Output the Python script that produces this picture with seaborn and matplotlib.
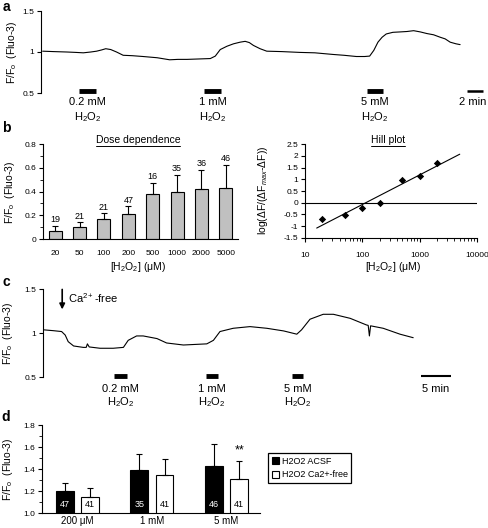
import numpy as np
import pandas as pd
import matplotlib
matplotlib.use("Agg")
import matplotlib.pyplot as plt
from matplotlib.lines import Line2D
import seaborn as sns

sns.set_style("ticks")
plt.rcParams['font.family'] = ['Liberation Sans', 'DejaVu Sans']
plt.rcParams['mathtext.fontset'] = 'custom'
plt.rcParams['mathtext.rm'] = 'Liberation Sans'
plt.rcParams['mathtext.it'] = 'Liberation Sans:italic'
plt.rcParams['mathtext.bf'] = 'Liberation Sans:bold'
plt.rcParams['axes.edgecolor'] = 'black'
plt.rcParams['text.color'] = 'black'
plt.rcParams['xtick.color'] = 'black'
plt.rcParams['ytick.color'] = 'black'
plt.rcParams['axes.linewidth'] = 0.8

# --- panel a: trace (min, F/Fo) ---
a_time = [0.2, 1.5, 3.1, 4.2, 5.1, 6.0, 6.7, 7.3, 7.8, 8.4, 9.1, 9.9, 11.0, 12.3,
          14.0, 15.5, 16.5, 17.6, 19.0, 20.4, 21.0, 21.6, 22.4, 23.2, 24.0, 24.6,
          25.1, 25.6, 26.4, 27.2, 29.0, 31.2, 33.0, 35.2, 36.5, 38.0, 39.0, 39.6,
          40.1, 40.6, 41.1, 41.6, 42.4, 43.3, 44.1, 44.9, 45.7, 46.5, 47.3, 48.1,
          48.7, 49.3, 50.0, 50.5]
a_ratio = [1.01, 1.005, 1.0, 0.995, 0.99, 1.0, 1.01, 1.025, 1.04, 1.03, 1.0, 0.96,
           0.955, 0.945, 0.93, 0.905, 0.91, 0.91, 0.915, 0.92, 0.95, 1.03, 1.07, 1.10,
           1.12, 1.13, 1.115, 1.08, 1.04, 1.01, 1.005, 0.995, 0.99, 0.97, 0.96, 0.945,
           0.945, 0.95, 1.02, 1.12, 1.18, 1.22, 1.24, 1.245, 1.25, 1.26, 1.245, 1.225,
           1.21, 1.18, 1.16, 1.12, 1.10, 1.09]
a_bars = [(4.6, 6.6), (19.6, 21.7), (39.3, 41.2)]
a_bar_labels = ['0.2 mM', '1 mM', '5 mM']
a_scale = (51.3, 53.3)

# --- panel b: dose dependence ---
b_conc = ['20', '50', '100', '200', '500', '1000', '2000', '5000']
b_mean = [0.07, 0.10, 0.166, 0.21, 0.383, 0.394, 0.42, 0.428]
b_err = [0.04, 0.04, 0.05, 0.065, 0.09, 0.15, 0.165, 0.20]
b_n = [19, 21, 21, 47, 16, 35, 36, 46]

# --- panel b: Hill plot ---
hill_conc = [20, 50, 100, 200, 500, 1000, 2000]
hill_val = [-0.70, -0.53, -0.21, -0.03, 0.97, 1.16, 1.71]

# --- panel c: trace in Ca2+-free ---
c_time = [0, 1.7, 3.1, 3.7, 4.2, 5.1, 6.7, 7.2, 7.4, 7.7, 9.5, 11.7, 13.4, 14.2,
          15.6, 16.7, 19.0, 20.6, 23.4, 27.3, 28.4, 29.5, 31.7, 34.5, 37.3, 40.1,
          42.3, 43.1, 44.5, 46.7, 48.4, 51.2, 53.9, 54.2, 54.4, 54.6, 56.7, 59.5, 61.7]
c_ratio = [1.04, 1.03, 1.02, 0.98, 0.905, 0.856, 0.84, 0.84, 0.88, 0.845, 0.83,
           0.83, 0.84, 0.92, 0.97, 0.97, 0.94, 0.89, 0.867, 0.88, 0.92, 1.02, 1.057,
           1.076, 1.057, 1.027, 0.99, 1.04, 1.16, 1.216, 1.216, 1.17, 1.095, 1.09,
           0.97, 1.085, 1.057, 0.99, 0.95]
c_bars = [(11.8, 14.0), (27.2, 29.2), (41.5, 43.3)]
c_scale = (63.0, 68.0)

# --- panel d: ACSF vs Ca2+-free ---
d_dose = ['200 μM', '1 mM', '5 mM']
d_acsf = [1.205, 1.39, 1.43]
d_acsf_err = [0.065, 0.15, 0.20]
d_acsf_n = [47, 35, 46]
d_cafree = [1.15, 1.35, 1.31]
d_cafree_err = [0.08, 0.14, 0.16]
d_cafree_n = [41, 41, 41]

W, H = 488, 528
fig = plt.figure(figsize=(W / 100, H / 100), dpi=100)


def px_axes(l, t, r, b):
    return fig.add_axes([l / W, 1 - b / H, (r - l) / W, (b - t) / H])


def fig_text(x, y, s, **kw):
    kw.setdefault('ha', 'center')
    kw.setdefault('va', 'center')
    return fig.text(x / W, 1 - y / H, s, **kw)


h2o2 = 'H$_2$O$_2$'
ylab = 'F/F$_{\\rm o}$  (Fluo-3)'

# ---------------- a ----------------
ax = px_axes(41, 11, 488, 93)
sns.lineplot(x=a_time, y=a_ratio, ax=ax, color='k', linewidth=0.8, estimator=None)
ax.set_xlim(0, 53.86)
ax.set_ylim(0.5, 1.5)
sns.despine(ax=ax, bottom=True)
ax.set_xticks([])
ax.set_yticks([0.5, 1, 1.5])
ax.set_yticklabels(['0.5', '1', '1.5'])
ax.tick_params(axis='y', labelsize=6, length=3, width=0.8, pad=2)
for (s, e), lab in zip(a_bars, a_bar_labels):
    ax.plot([s, e], [0.53, 0.53], color='k', lw=3.5, solid_capstyle='butt', clip_on=False)
    ax.text((s + e) / 2, 0.39, lab, ha='center', va='center', fontsize=8)
    ax.text((s + e) / 2, 0.21, h2o2, ha='center', va='center', fontsize=8)
ax.plot(a_scale, [0.53, 0.53], color='k', lw=1.8, solid_capstyle='butt', clip_on=False)
ax.text(52.0, 0.39, '2 min', ha='center', va='center', fontsize=8)
fig_text(12, 52, ylab, rotation=90, fontsize=7.5)
fig_text(6, 7, 'a', fontsize=10, fontweight='bold')

# ---------------- b left ----------------
ax = px_axes(43, 144.3, 238, 239)
df_b = pd.DataFrame({'conc': b_conc, 'dF': b_mean})
sns.barplot(data=df_b, x='conc', y='dF', color='#c0c0c0', saturation=1,
            edgecolor='k', linewidth=0.8, width=0.53, ax=ax)
ax.errorbar(range(len(b_conc)), b_mean, yerr=[np.zeros(len(b_err)), b_err],
            fmt='none', ecolor='k', elinewidth=0.8, capsize=2.5, capthick=0.8)
for i, n in enumerate(b_n):
    ax.text(i, b_mean[i] + b_err[i] + 0.015, str(n), ha='center', va='bottom', fontsize=6.5)
ax.set_xlim(-0.5, 7.5)
ax.set_ylim(0, 0.8)
ax.set_yticks([0, 0.2, 0.4, 0.6, 0.8])
ax.set_yticklabels(['0', '0.2', '0.4', '0.6', '0.8'])
ax.set_yticks(np.arange(0.1, 0.8, 0.2), minor=True)
ax.tick_params(axis='y', which='major', labelsize=6, length=3, width=0.8, pad=2)
ax.tick_params(axis='y', which='minor', length=2, width=0.6, left=True)
ax.tick_params(axis='x', length=0, labelsize=6, pad=8)
ax.set_xlabel('')
ax.set_ylabel('')
sns.despine(ax=ax)
fig_text(138, 267, '[' + h2o2 + '] (μM)', fontsize=7.5)
fig_text(10, 192, ylab, rotation=90, fontsize=7.5)
fig_text(6, 128, 'b', fontsize=10, fontweight='bold')

# ---------------- b right (Hill) ----------------
ax = px_axes(305, 144.3, 477, 237.7)
sns.scatterplot(x=hill_conc, y=hill_val, marker='D', s=14, color='k',
                edgecolor='k', linewidth=0, ax=ax)
slope, icpt = np.polyfit(np.log10(hill_conc), hill_val, 1)
fit_x = np.array([16, 5000])
ax.plot(fit_x, icpt + slope * np.log10(fit_x), color='k', lw=0.8)
ax.axhline(0, color='k', lw=0.8)
ax.set_xscale('log')
ax.set_xlim(10, 10000)
ax.set_ylim(-1.5, 2.5)
ax.set_yticks(np.arange(-1.5, 2.6, 0.5))
ax.set_yticklabels(['-1.5', '-1', '-0.5', '0', '0.5', '1', '1.5', '2', '2.5'])
ax.set_xticks([10, 100, 1000, 10000])
ax.set_xticklabels(['10', '100', '1000', '10000'])
ax.tick_params(axis='both', which='major', labelsize=6, length=3, width=0.8, pad=2)
ax.tick_params(axis='x', which='minor', length=2, width=0.6, bottom=True)
ax.tick_params(axis='x', which='major', pad=7)
sns.despine(ax=ax)
fig_text(393, 267, '[' + h2o2 + '] (μM)', fontsize=7.5)
fig_text(263, 190, 'log(ΔF/(ΔF$_{max}$-ΔF))', rotation=90, fontsize=7.5)

# underlined titles
titles = [fig_text(138, 140, 'Dose dependence', fontsize=7.5),
          fig_text(388, 140, 'Hill plot', fontsize=7.5)]
fig.canvas.draw()
for t in titles:
    bb = t.get_window_extent()
    yy = bb.y0 - 0.5
    fig.add_artist(Line2D([bb.x0 / W, bb.x1 / W], [yy / H, yy / H],
                          transform=fig.transFigure, color='k', lw=0.7))

# ---------------- c ----------------
ax = px_axes(43, 289.3, 451, 377.3)
sns.lineplot(x=c_time, y=c_ratio, ax=ax, color='k', linewidth=0.8, estimator=None)
ax.set_xlim(0, 68)
ax.set_ylim(0.5, 1.5)
sns.despine(ax=ax, bottom=True)
ax.set_xticks([])
ax.set_yticks([0.5, 1, 1.5])
ax.set_yticklabels(['0.5', '1', '1.5'])
ax.tick_params(axis='y', labelsize=6, length=3, width=0.8, pad=2)
for (s, e), lab in zip(c_bars, a_bar_labels):
    ax.plot([s, e], [0.52, 0.52], color='k', lw=3.5, solid_capstyle='butt', clip_on=False)
    ax.text((s + e) / 2, 0.367, lab, ha='center', va='center', fontsize=8)
    ax.text((s + e) / 2, 0.22, h2o2, ha='center', va='center', fontsize=8)
ax.plot(c_scale, [0.52, 0.52], color='k', lw=1.5, solid_capstyle='butt', clip_on=False)
ax.text(65.5, 0.367, '5 min', ha='center', va='center', fontsize=8)
ax.annotate('', xy=(3.2, 1.24), xytext=(3.2, 1.53),
            arrowprops=dict(arrowstyle='-|>', color='k', lw=1.2, mutation_scale=8),
            annotation_clip=False)
ax.text(4.2, 1.40, 'Ca$^{2+}$-free', ha='left', va='center', fontsize=8)
fig_text(8, 333, ylab, rotation=90, fontsize=7.5)
fig_text(6, 282, 'c', fontsize=10, fontweight='bold')

# ---------------- d ----------------
ax = px_axes(41.7, 425, 260, 513.3)
df_d = pd.DataFrame({
    'dose': d_dose * 2,
    'ratio': d_acsf + d_cafree,
    'cond': ['H2O2 ACSF'] * 3 + ['H2O2 Ca2+-free'] * 3,
})
sns.barplot(data=df_d, x='dose', y='ratio', hue='cond', palette=['black', 'white'],
            saturation=1, edgecolor='k', linewidth=0.8, width=0.68, gap=0.3, ax=ax)
groups = [(d_acsf, d_acsf_err, d_acsf_n, 'white'),
          (d_cafree, d_cafree_err, d_cafree_n, 'black')]
for cont, (vals, errs, ns, tc) in zip(ax.containers, groups):
    xs = [p.get_x() + p.get_width() / 2 for p in cont.patches]
    ax.errorbar(xs, vals, yerr=[np.zeros(len(errs)), errs], fmt='none', ecolor='k',
                elinewidth=0.8, capsize=2.5, capthick=0.8)
    for x, n in zip(xs, ns):
        ax.text(x, 1.084, str(n), ha='center', va='center', fontsize=6.5, color=tc)
last = ax.containers[1].patches[2]
ax.text(last.get_x() + last.get_width() / 2, 1.515, '**', ha='center', va='bottom',
        fontsize=9)
ax.set_xlim(-0.48, 2.45)
ax.set_ylim(1.0, 1.8)
ax.set_yticks([1.0, 1.2, 1.4, 1.6, 1.8])
ax.set_yticklabels(['1.0', '1.2', '1.4', '1.6', '1.8'])
ax.set_yticks(np.arange(1.1, 1.8, 0.2), minor=True)
ax.tick_params(axis='y', which='major', labelsize=6, length=3, width=0.8, pad=2)
ax.tick_params(axis='y', which='minor', length=2, width=0.6, left=True)
ax.tick_params(axis='x', length=0, labelsize=7, pad=2)
ax.set_xlabel('')
ax.set_ylabel('')
sns.despine(ax=ax)
leg = ax.legend(loc='center left', bbox_to_anchor=(268 / W, 1 - 468 / H),
                bbox_transform=fig.transFigure, frameon=True, fancybox=False,
                edgecolor='k', framealpha=1, fontsize=6.5, handlelength=0.8,
                handleheight=0.8, handletextpad=0.3, borderpad=0.4,
                labelspacing=0.5, borderaxespad=0)
leg.get_frame().set_linewidth(0.9)
fig_text(8, 469, ylab, rotation=90, fontsize=7.5)
fig_text(6, 417, 'd', fontsize=10, fontweight='bold')

fig.savefig('out.png', dpi=100)
